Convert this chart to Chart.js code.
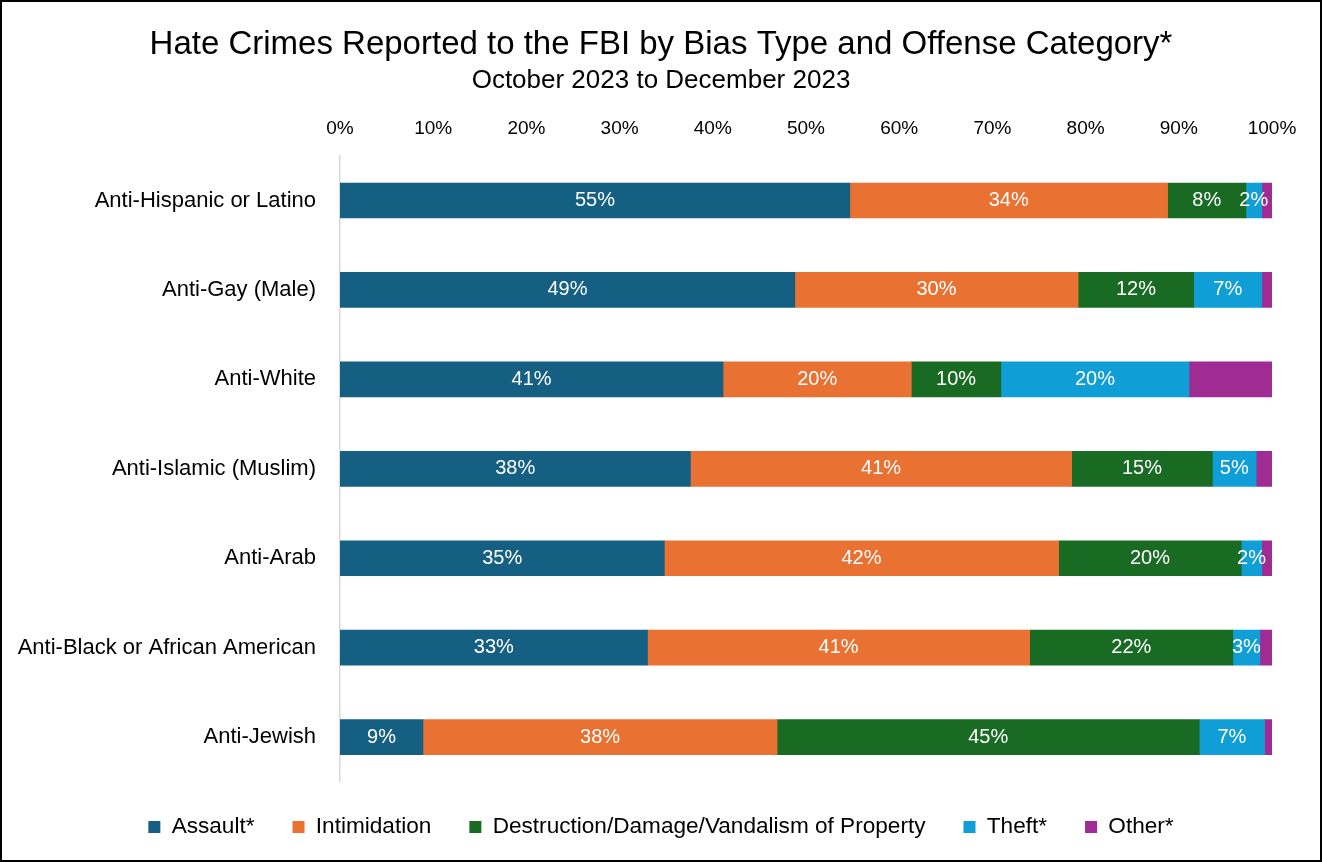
<!DOCTYPE html>
<html>
<head>
<meta charset="utf-8">
<script src="https://cdn.jsdelivr.net/npm/chart.js@4.4.1/dist/chart.umd.min.js"></script>
<style>
  html, body { margin: 0; padding: 0; background: #fff; }
  #wrap { width: 1322px; height: 862px; box-sizing: border-box; border: 2px solid #000; background: #fff; }
  canvas { display: block; }
</style>
</head>
<body>
<div id="wrap"><canvas id="c" width="1318" height="858"></canvas></div>
<script>
const categories = ['Anti-Hispanic or Latino', 'Anti-Gay (Male)', 'Anti-White', 'Anti-Islamic (Muslim)', 'Anti-Arab', 'Anti-Black or African American', 'Anti-Jewish'];
const seriesNames = ['Assault*', 'Intimidation', 'Destruction/Damage/Vandalism of Property', 'Theft*', 'Other*'];
const assault      = [54.7, 48.8, 41.1, 37.6, 34.8, 33.0, 8.9];
const intimidation = [34.1, 30.4, 20.2, 40.9, 42.3, 41.0, 38.0];
const destruction  = [8.4, 12.4, 9.6, 15.1, 19.6, 21.8, 45.3];
const theft        = [1.7, 7.3, 20.2, 4.7, 2.2, 2.9, 7.0];
const other        = [1.1, 1.1, 8.9, 1.7, 1.1, 1.3, 0.8];
const tickValues   = [0, 10, 20, 30, 40, 50, 60, 70, 80, 90, 100];

const colors = ['#156082', '#E97132', '#196B24', '#0F9ED5', '#A02B93'];
const font = "'Liberation Sans', Arial, sans-serif";

const allSeries = [assault, intimidation, destruction, theft, other];
const datasets = allSeries.map((d, i) => ({
  label: seriesNames[i],
  data: d,
  backgroundColor: colors[i],
  borderWidth: 0,
  barThickness: 35,
  yAxisID: 'y',
  xAxisID: 'x',
  showLabel: i < 4
}));

const labelPlugin = {
  id: 'segLabels',
  afterDatasetsDraw(chart) {
    const ctx = chart.ctx;
    ctx.save();
    ctx.fillStyle = '#ffffff';
    ctx.font = '20px ' + font;
    ctx.textAlign = 'center';
    ctx.textBaseline = 'middle';
    chart.data.datasets.forEach((ds, di) => {
      if (!ds.showLabel) return;
      const meta = chart.getDatasetMeta(di);
      meta.data.forEach((el, i) => {
        const v = ds.data[i];
        if (v < 1.5) return;
        const x = (el.x + el.base) / 2;
        ctx.fillText(Math.round(v) + '%', x, el.y);
      });
    });
    ctx.restore();
  }
};

// shift legend drawing upward so the gap above the legend is tighter than its horizontal spacing
const legendShift = {
  id: 'legendShift',
  beforeUpdate(chart) {
    const lg = chart.legend;
    if (lg && !lg._shiftPatched) {
      const orig = lg.draw.bind(lg);
      lg.draw = function () {
        const ctx = chart.ctx;
        ctx.save();
        ctx.translate(0, -4);
        orig();
        ctx.restore();
      };
      lg._shiftPatched = true;
    }
  }
};

new Chart(document.getElementById('c'), {
  type: 'bar',
  data: { labels: categories, datasets },
  plugins: [labelPlugin, legendShift],
  options: {
    responsive: false,
    animation: false,
    indexAxis: 'y',
    layout: { padding: { left: 0, right: 0, top: 0, bottom: 7.6 } },
    scales: {
      x: {
        stacked: true,
        position: 'top',
        min: 0, max: 100,
        afterBuildTicks(scale) { scale.ticks = tickValues.map(v => ({ value: v })); },
        ticks: {
          callback: v => v + '%',
          color: '#000',
          font: { size: 19, family: font },
          padding: 16,
          maxRotation: 0,
          autoSkip: false
        },
        grid: { display: false, drawTicks: false },
        border: { display: false }
      },
      y: {
        stacked: true,
        position: 'left',
        afterFit(scale) { scale.width = 338; },
        ticks: {
          color: '#000',
          font: { size: 22, family: font },
          padding: 24
        },
        grid: { display: false, drawTicks: false },
        border: { display: true, color: '#d9d9d9', width: 1.5 }
      },
      yR: {
        type: 'linear',
        axis: 'y',
        position: 'right',
        display: true,
        afterFit(scale) { scale.width = 48; },
        ticks: { display: false },
        grid: { display: false, drawTicks: false },
        border: { display: false }
      }
    },
    plugins: {
      title: {
        display: true,
        text: 'Hate Crimes Reported to the FBI by Bias Type and Offense Category*',
        color: '#000',
        font: { size: 33, family: font, weight: 'normal' },
        padding: { top: 23, bottom: 0.2 }
      },
      subtitle: {
        display: true,
        text: 'October 2023 to December 2023',
        color: '#000',
        font: { size: 26, family: font, weight: 'normal' },
        padding: { top: 0, bottom: 5 }
      },
      legend: {
        position: 'bottom',
        labels: {
          color: '#000',
          font: { size: 22.6, family: font },
          boxWidth: 12,
          boxHeight: 12,
          padding: 38
        }
      },
      tooltip: { enabled: false }
    }
  }
});
</script>
</body>
</html>
